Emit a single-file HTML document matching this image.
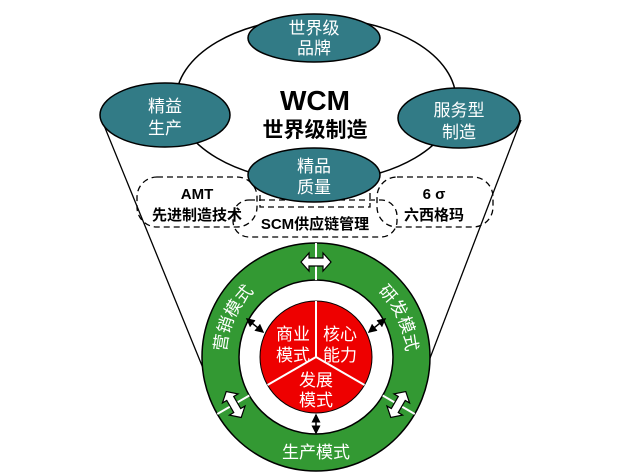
<!DOCTYPE html>
<html><head><meta charset="utf-8"><style>
html,body{margin:0;padding:0;background:#fff;}
svg{display:block;font-family:"Liberation Sans","Noto Sans CJK SC",sans-serif;}
</style></head><body>
<svg width="632" height="474" viewBox="0 0 632 474" xmlns="http://www.w3.org/2000/svg">
<defs>
<path id="arcL" d="M 231.4 387.8 A 90 90 0 0 1 285.2 272.4"/>
<path id="arcR" d="M 346.8 272.4 A 90 90 0 0 1 400.6 387.8"/>
<marker id="ah" markerWidth="6" markerHeight="6" refX="5" refY="3" orient="auto-start-reverse"><path d="M0,0 L6,3 L0,6 z" fill="#000"/></marker>
</defs>
<line x1="101" y1="118" x2="216" y2="400" stroke="#000" stroke-width="1.3"/>
<line x1="521" y1="120" x2="414" y2="400" stroke="#000" stroke-width="1.3"/>
<ellipse cx="316" cy="100" rx="140" ry="82" fill="#fff" stroke="#000" stroke-width="1.5"/>
<rect x="137" y="177" width="120" height="50" rx="20" fill="none" stroke="#000" stroke-width="1.3" stroke-dasharray="6,4"/>
<rect x="377" y="177" width="116" height="50" rx="20" fill="none" stroke="#000" stroke-width="1.3" stroke-dasharray="6,4"/>
<rect x="233" y="200" width="164" height="37" rx="16" fill="none" stroke="#000" stroke-width="1.3" stroke-dasharray="6,4"/>
<rect x="260" y="183" width="110" height="24" fill="none" stroke="#000" stroke-width="1.3" stroke-dasharray="6,4"/>
<g fill="#327b86" stroke="#000" stroke-width="1.5">
<ellipse cx="314" cy="38" rx="66" ry="24"/>
<ellipse cx="165" cy="115" rx="65" ry="32"/>
<ellipse cx="459" cy="118" rx="61" ry="30"/>
<ellipse cx="314" cy="175" rx="66" ry="27"/>
</g>
<g fill="#fff" font-size="17" text-anchor="middle">
<text x="314" y="34">世界级</text><text x="314" y="54">品牌</text>
<text x="165" y="112">精益</text><text x="165" y="134">生产</text>
<text x="459" y="116">服务型</text><text x="459" y="138">制造</text>
<text x="314" y="172">精品</text><text x="314" y="193">质量</text>
</g>
<text x="315" y="110" font-size="28" font-weight="bold" text-anchor="middle">WCM</text>
<text x="315" y="137" font-size="21" font-weight="bold" text-anchor="middle">世界级制造</text>
<g font-size="15" font-weight="bold" text-anchor="middle">
<text x="197" y="199">AMT</text><text x="197" y="220">先进制造技术</text>
<text x="434" y="199">6 σ</text><text x="434" y="220">六西格玛</text>
<text x="315" y="229">SCM供应链管理</text>
</g>
<circle cx="316" cy="357" r="114" fill="#339933" stroke="#000" stroke-width="1.5"/>
<circle cx="316" cy="357" r="77" fill="#fff" stroke="#000" stroke-width="1.5"/>
<circle cx="316" cy="357" r="56" fill="#ee0000" stroke="#000" stroke-width="1"/>
<g stroke="#fff" stroke-width="2">
<line x1="316" y1="357" x2="316" y2="301"/>
<line x1="316" y1="357" x2="267.5" y2="385"/>
<line x1="316" y1="357" x2="364.5" y2="385"/>
</g>
<g fill="#fff" font-size="17" text-anchor="middle">
<text x="293" y="340">商业</text><text x="293" y="361">模式</text>
<text x="340" y="340">核心</text><text x="340" y="361">能力</text>
<text x="316" y="386">发展</text><text x="316" y="406">模式</text>
</g>
<g fill="#fff" font-size="17">
<text><textPath href="#arcL" startOffset="50%" text-anchor="middle">营销模式</textPath></text>
<text><textPath href="#arcR" startOffset="50%" text-anchor="middle">研发模式</textPath></text>
</g>
<text x="316" y="458" fill="#fff" font-size="17" text-anchor="middle">生产模式</text>
<g>
<line x1="316" y1="243" x2="316" y2="280" stroke="#fff" stroke-width="2"/>
<path d="M301,262 L309,253 L309,258 L323,258 L323,253 L331,262 L323,271 L323,266 L309,266 L309,271 z" fill="#fff" stroke="#000" stroke-width="1.2"/>
</g>
<g transform="rotate(-120,316,357)">
<line x1="316" y1="243" x2="316" y2="280" stroke="#fff" stroke-width="2"/>
<path d="M301,262 L309,253 L309,258 L323,258 L323,253 L331,262 L323,271 L323,266 L309,266 L309,271 z" fill="#fff" stroke="#000" stroke-width="1.2"/>
</g>
<g transform="rotate(120,316,357)">
<line x1="316" y1="243" x2="316" y2="280" stroke="#fff" stroke-width="2"/>
<path d="M301,262 L309,253 L309,258 L323,258 L323,253 L331,262 L323,271 L323,266 L309,266 L309,271 z" fill="#fff" stroke="#000" stroke-width="1.2"/>
</g>
<g stroke="#000" stroke-width="1.5" marker-start="url(#ah)" marker-end="url(#ah)">
<line x1="247" y1="319" x2="263" y2="332"/>
<line x1="385" y1="319" x2="369" y2="332"/>
<line x1="316" y1="415" x2="316" y2="433"/>
</g>
</svg>
</body></html>
